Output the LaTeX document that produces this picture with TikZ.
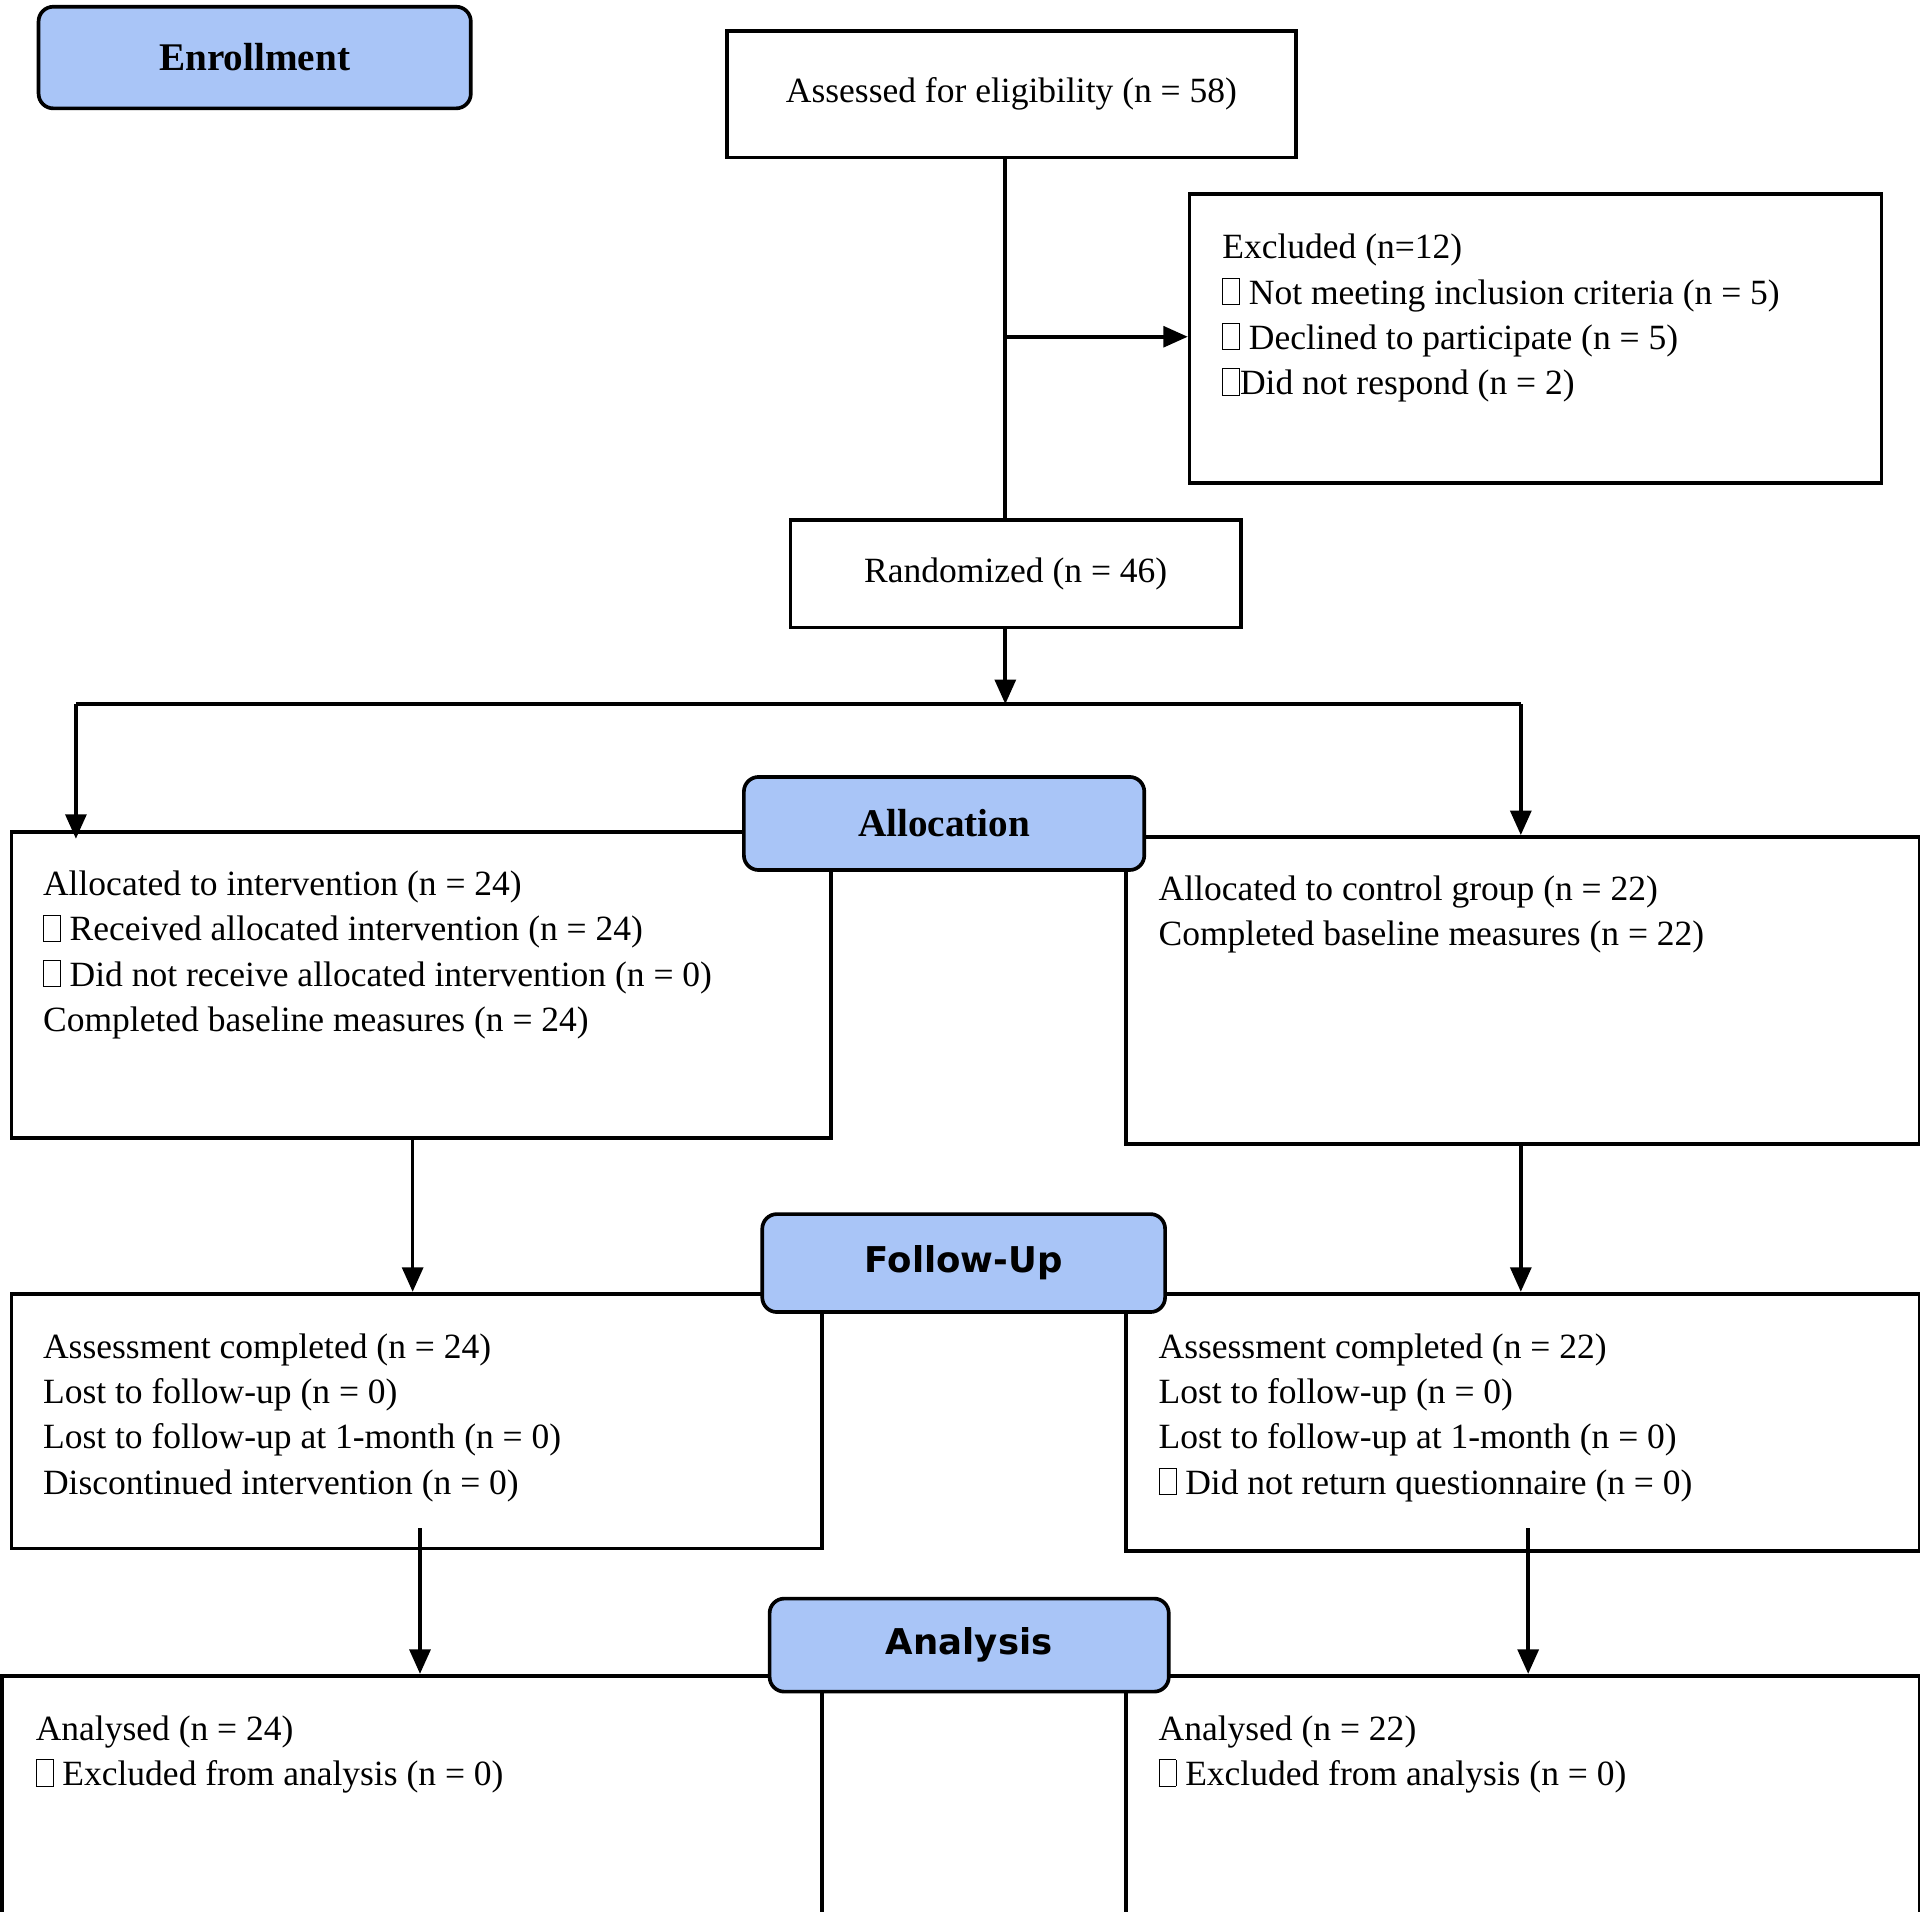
\documentclass[tikz,border=0pt]{standalone}
\usepackage{fontspec}
\setmainfont{Liberation Serif}
\newfontfamily\labelsans{DejaVu Sans}
\usetikzlibrary{arrows.meta}
\definecolor{stageblue}{HTML}{A9C5F7}
\newcommand{\tofu}{{\setlength\fboxsep{0pt}\setlength\fboxrule{0.6pt}\framebox[0.5em]{\rule{0pt}{0.72em}}}}
\tikzset{
  box/.style={draw,line width=3pt,anchor=north west,inner sep=0pt},
  stage/.style={box,rounded corners=12pt,fill=stageblue,font=\fontsize{32}{36}\selectfont\bfseries},
  txt/.style={anchor=north west,inner sep=0pt,align=left,font=\fontsize{29}{37}\selectfont},
  arr/.style={line width=3pt,-{Triangle[length=20pt,width=17pt]}}
}
\begin{document}
\begin{tikzpicture}[x=1pt,y=-1pt]
    \useasboundingbox (0,0) rectangle (1568,1561);
    % boxes
    \node[stage,minimum width=353,minimum height=83] (enroll) at (30,4) {Enrollment};
    \node[box,minimum width=465,minimum height=103,font=\fontsize{29}{37}\selectfont] (assess) at (592,24) {Assessed for eligibility (n = 58)};
    \node[box,minimum width=565,minimum height=236] (excl) at (970,157) {};
    \node[box,minimum width=368,minimum height=88,font=\fontsize{29}{37}\selectfont] (rand) at (644,423) {Randomized (n = 46)};
    \node[box,minimum width=669,minimum height=250] (allocL) at (8,678) {};
    \node[box,minimum width=648,minimum height=251] (allocR) at (918,682) {};
    \node[stage,minimum width=327,minimum height=76] (alloc) at (606,633) {Allocation};
    \node[box,minimum width=662,minimum height=208] (fuL) at (8,1055) {};
    \node[box,minimum width=648,minimum height=210] (fuR) at (918,1055) {};
    \node[stage,minimum width=329,minimum height=80,font=\fontsize{29}{36}\labelsans\bfseries] (fu) at (621,990) {Follow-Up};
    \node[box,minimum width=670,minimum height=196] (anL) at (0,1367) {};
    \node[box,minimum width=648,minimum height=196] (anR) at (918,1367) {};
    \node[stage,minimum width=326,minimum height=76,font=\fontsize{29}{36}\labelsans\bfseries] (an) at (627,1304) {Analysis};
    % texts
    \node[txt] (exclT) at (998,191) {Excluded (n=12)\\ \tofu{} Not meeting inclusion criteria (n = 5)\\ \tofu{} Declined to participate (n = 5)\\ \tofu{}Did not respond (n = 2)};
    \node[txt] (allocLT) at (35,711) {Allocated to intervention (n = 24)\\ \tofu{} Received allocated intervention (n = 24)\\ \tofu{} Did not receive allocated intervention (n = 0)\\ Completed baseline measures (n = 24)};
    \node[txt] (allocRT) at (946,715) {Allocated to control group (n = 22)\\ Completed baseline measures (n = 22)};
    \node[txt] (fuLT) at (35,1089) {Assessment completed (n = 24)\\ Lost to follow-up (n = 0)\\ Lost to follow-up at 1-month (n = 0)\\ Discontinued intervention (n = 0)};
    \node[txt] (fuRT) at (946,1089) {Assessment completed (n = 22)\\ Lost to follow-up (n = 0)\\ Lost to follow-up at 1-month (n = 0)\\ \tofu{} Did not return questionnaire (n = 0)};
    \node[txt] (anLT) at (29,1401) {Analysed (n = 24)\\ \tofu{} Excluded from analysis (n = 0)};
    \node[txt] (anRT) at (946,1401) {Analysed (n = 22)\\ \tofu{} Excluded from analysis (n = 0)};
    % connectors
    \coordinate (branch) at (821,275);
    \coordinate (split) at (821,575);
    \coordinate (splitL) at (62,575);
    \coordinate (splitR) at (1242,575);
    \draw[line width=3pt] (assess.south -| branch) -- (rand.north -| branch);
    \draw[arr] (branch) -- (excl.west |- branch);
    \draw[arr] (rand.south -| split) -- (split);
    \draw[line width=3pt] (splitL) -- (splitR);
    \draw[arr] (splitL) -- (62,685);
    \draw[arr] (splitR) -- (allocR.north -| splitR);
    \draw[arr] (337,928) -- (fuL.north -| 337,0);
    \draw[arr] (allocR.south -| splitR) -- (fuR.north -| splitR);
    \draw[arr] (343,1248) -- (anL.north -| 343,0);
    \draw[arr] (1248,1248) -- (anR.north -| 1248,0);
\end{tikzpicture}
\end{document}
